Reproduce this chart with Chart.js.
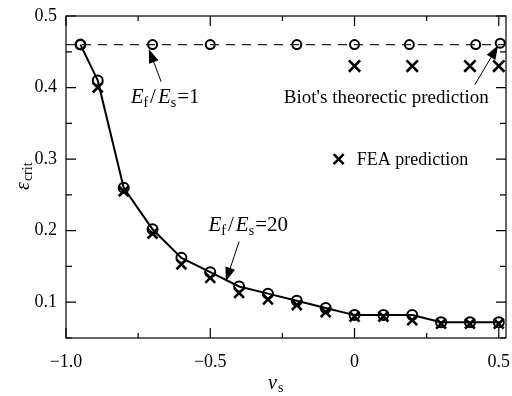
<!DOCTYPE html>
<html>
<head>
<meta charset="utf-8">
<script src="https://cdn.jsdelivr.net/npm/chart.js@4.4.1/dist/chart.umd.min.js"></script>
<style>
  html, body { margin: 0; padding: 0; background: #fff; }
  #wrap { width: 512px; height: 396px; }
</style>
</head>
<body>
<div id="wrap"><canvas id="critChart" width="512" height="396"></canvas></div>
<script>
// Values
const nu20 = [-0.95, -0.89, -0.8, -0.7, -0.6, -0.5, -0.4, -0.3, -0.2, -0.1, 0, 0.1, 0.2, 0.3, 0.4, 0.5];
const biot20 = [0.46, 0.41, 0.26, 0.202, 0.162, 0.142, 0.122, 0.112, 0.102, 0.092, 0.082, 0.082, 0.082, 0.072, 0.072, 0.072];
const nuFea20 = [-0.89, -0.8, -0.7, -0.6, -0.5, -0.4, -0.3, -0.2, -0.1, 0, 0.1, 0.2, 0.3, 0.4, 0.5];
const fea20 = [0.40, 0.255, 0.196, 0.153, 0.134, 0.113, 0.104, 0.096, 0.086, 0.08, 0.08, 0.075, 0.07, 0.07, 0.07];
const nu1 = [-0.95, -0.7, -0.5, -0.2, 0, 0.19, 0.42, 0.505];
const biot1 = [0.46, 0.46, 0.46, 0.46, 0.46, 0.46, 0.46, 0.462];
const nuFea1 = [0, 0.2, 0.4, 0.5];
const fea1 = [0.43, 0.43, 0.43, 0.43];
const biotLevel = 0.46;

const xTicks = [-1, -0.75, -0.5, -0.25, 0, 0.25, 0.5];
const xLabels = ['\u22121.0', '', '\u22120.5', '', '0', '', '0.5'];
const yTicks = [0.05, 0.1, 0.15, 0.2, 0.25, 0.3, 0.35, 0.4, 0.45, 0.5];
const yLabels = ['', '0.1', '', '0.2', '', '0.3', '', '0.4', '', '0.5'];
const X_MIN = -1, X_MAX = 0.525, Y_MIN = 0.05, Y_MAX = 0.5;

const SERIF = '"Liberation Serif", "DejaVu Serif", serif';
const zip = (xs, ys) => xs.map((x, i) => ({ x, y: ys[i] }));

// Frame, inward ticks, annotations
const decorPlugin = {
  id: 'decor',
  afterDraw(chart) {
    const { ctx, chartArea: a, scales: { x, y } } = chart;
    ctx.save();
    ctx.strokeStyle = '#000';
    ctx.lineWidth = 1.2;
    ctx.strokeRect(a.left, a.top, a.right - a.left, a.bottom - a.top);

    xTicks.forEach((v, i) => {
      const px = x.getPixelForValue(v);
      const len = xLabels[i] ? 10 : 5;
      ctx.beginPath();
      ctx.moveTo(px, a.bottom); ctx.lineTo(px, a.bottom - len);
      ctx.moveTo(px, a.top); ctx.lineTo(px, a.top + len);
      ctx.stroke();
    });
    yTicks.forEach((v, i) => {
      const py = y.getPixelForValue(v);
      const len = yLabels[i] ? 10 : 6;
      ctx.beginPath();
      ctx.moveTo(a.left, py); ctx.lineTo(a.left + len, py);
      ctx.moveTo(a.right, py); ctx.lineTo(a.right - len, py);
      ctx.stroke();
    });

    // axis titles
    ctx.fillStyle = '#000';
    ctx.textBaseline = 'alphabetic';
    ctx.textAlign = 'left';
    ctx.font = 'italic 20px ' + SERIF;
    ctx.fillText('\u03bd', 268, 389);
    ctx.font = '14px ' + SERIF;
    ctx.fillText('s', 278, 392);

    ctx.save();
    ctx.translate(29, 190);
    ctx.rotate(-Math.PI / 2);
    ctx.font = 'italic 20px ' + SERIF;
    ctx.fillText('\u03b5', 0, 0);
    const ew = ctx.measureText('\u03b5').width;
    ctx.font = '14px ' + SERIF;
    ctx.fillText('crit', ew + 1, 3);
    ctx.restore();

    // annotations
    drawRatio(ctx, x.getPixelForValue(-0.776), y.getPixelForValue(0.378), '1');
    drawRatio(ctx, x.getPixelForValue(-0.506), y.getPixelForValue(0.2), '20');
    arrow(ctx, x.getPixelForValue(-0.67), y.getPixelForValue(0.408), x.getPixelForValue(-0.713), y.getPixelForValue(0.454));
    arrow(ctx, x.getPixelForValue(-0.40), y.getPixelForValue(0.185), x.getPixelForValue(-0.446), y.getPixelForValue(0.129));
    arrow(ctx, x.getPixelForValue(0.417), y.getPixelForValue(0.404), x.getPixelForValue(0.498), y.getPixelForValue(0.459));

    ctx.font = '19px ' + SERIF;
    ctx.fillText("Biot's theorectic prediction", x.getPixelForValue(-0.245), y.getPixelForValue(0.378));

    // legend entry
    const lx = x.getPixelForValue(-0.055), ly = y.getPixelForValue(0.3);
    ctx.lineWidth = 2.6;
    ctx.beginPath();
    ctx.moveTo(lx - 5, ly - 5); ctx.lineTo(lx + 5, ly + 5);
    ctx.moveTo(lx + 5, ly - 5); ctx.lineTo(lx - 5, ly + 5);
    ctx.stroke();
    ctx.font = '18px ' + SERIF;
    ctx.fillText('FEA prediction', lx + 18, ly + 6);
    ctx.restore();
  }
};

function drawRatio(ctx, x0, base, rhs) {
  let cx = x0;
  const part = (txt, font, dy, gap) => {
    ctx.font = font;
    ctx.fillText(txt, cx, base + dy);
    cx += ctx.measureText(txt).width + (gap || 0);
  };
  part('E', 'italic 21px ' + SERIF, 0, 0);
  part('f', '14px ' + SERIF, 4, 2);
  part('/', '21px ' + SERIF, 0, 2);
  part('E', 'italic 21px ' + SERIF, 0, 0);
  part('s', '14px ' + SERIF, 4, 1);
  part('=' + rhs, '21px ' + SERIF, 0, 0);
}

function arrow(ctx, x1, y1, x2, y2) {
  const ang = Math.atan2(y2 - y1, x2 - x1);
  const hl = 14, hw = 5;
  const bx = x2 - hl * Math.cos(ang), by = y2 - hl * Math.sin(ang);
  ctx.lineWidth = 1;
  ctx.beginPath();
  ctx.moveTo(x1, y1); ctx.lineTo(bx, by);
  ctx.stroke();
  ctx.beginPath();
  ctx.moveTo(x2, y2);
  ctx.lineTo(bx + hw * Math.sin(ang), by - hw * Math.cos(ang));
  ctx.lineTo(bx - hw * Math.sin(ang), by + hw * Math.cos(ang));
  ctx.closePath();
  ctx.fill();
}

const circleSet = (data, r) => ({
  data, showLine: false, pointStyle: 'circle', pointRadius: r,
  pointBorderWidth: 2, pointBorderColor: '#000', pointBackgroundColor: 'rgba(0,0,0,0)'
});
const crossSet = (data, r) => ({
  data, showLine: false, pointStyle: 'crossRot', pointRadius: r,
  pointBorderWidth: 2.6, pointBorderColor: '#000'
});

const ctx = document.getElementById('critChart').getContext('2d');
new Chart(ctx, {
  type: 'scatter',
  data: {
    datasets: [
      { data: [{ x: X_MIN, y: biotLevel }, { x: X_MAX, y: biotLevel }], showLine: true,
        borderColor: '#222', borderWidth: 1.3, borderDash: [9, 7], pointRadius: 0 },
      { data: zip(nu20, biot20), showLine: true, borderColor: '#000', borderWidth: 2, pointRadius: 0 },
      circleSet(zip(nu20, biot20), 5),
      crossSet(zip(nuFea20, fea20), 7),
      circleSet(zip(nu1, biot1), 4.5),
      crossSet(zip(nuFea1, fea1), 8)
    ]
  },
  options: {
    animation: false,
    responsive: false,
    layout: { autoPadding: false, padding: { top: 16, right: 6, left: 0, bottom: 0 } },
    plugins: { legend: { display: false }, tooltip: { enabled: false } },
    scales: {
      x: {
        type: 'linear', min: X_MIN, max: X_MAX,
        afterFit(s) { s.height = 58; s.paddingLeft = 0; s.paddingRight = 0; },
        afterBuildTicks(s) { s.ticks = xTicks.map(v => ({ value: v })); },
        ticks: { callback: (v, i) => xLabels[i], color: '#000', font: { family: SERIF, size: 18 },
                 padding: 13, maxRotation: 0, autoSkip: false },
        grid: { display: false, drawTicks: false },
        border: { display: false }
      },
      y: {
        type: 'linear', min: Y_MIN, max: Y_MAX,
        afterFit(s) { s.width = 66; s.paddingTop = 0; s.paddingBottom = 0; },
        afterBuildTicks(s) { s.ticks = yTicks.map(v => ({ value: v })); },
        ticks: { callback: (v, i) => yLabels[i], color: '#000', font: { family: SERIF, size: 18 },
                 padding: 9, autoSkip: false },
        grid: { display: false, drawTicks: false },
        border: { display: false }
      }
    }
  },
  plugins: [decorPlugin]
});
</script>
</body>
</html>
